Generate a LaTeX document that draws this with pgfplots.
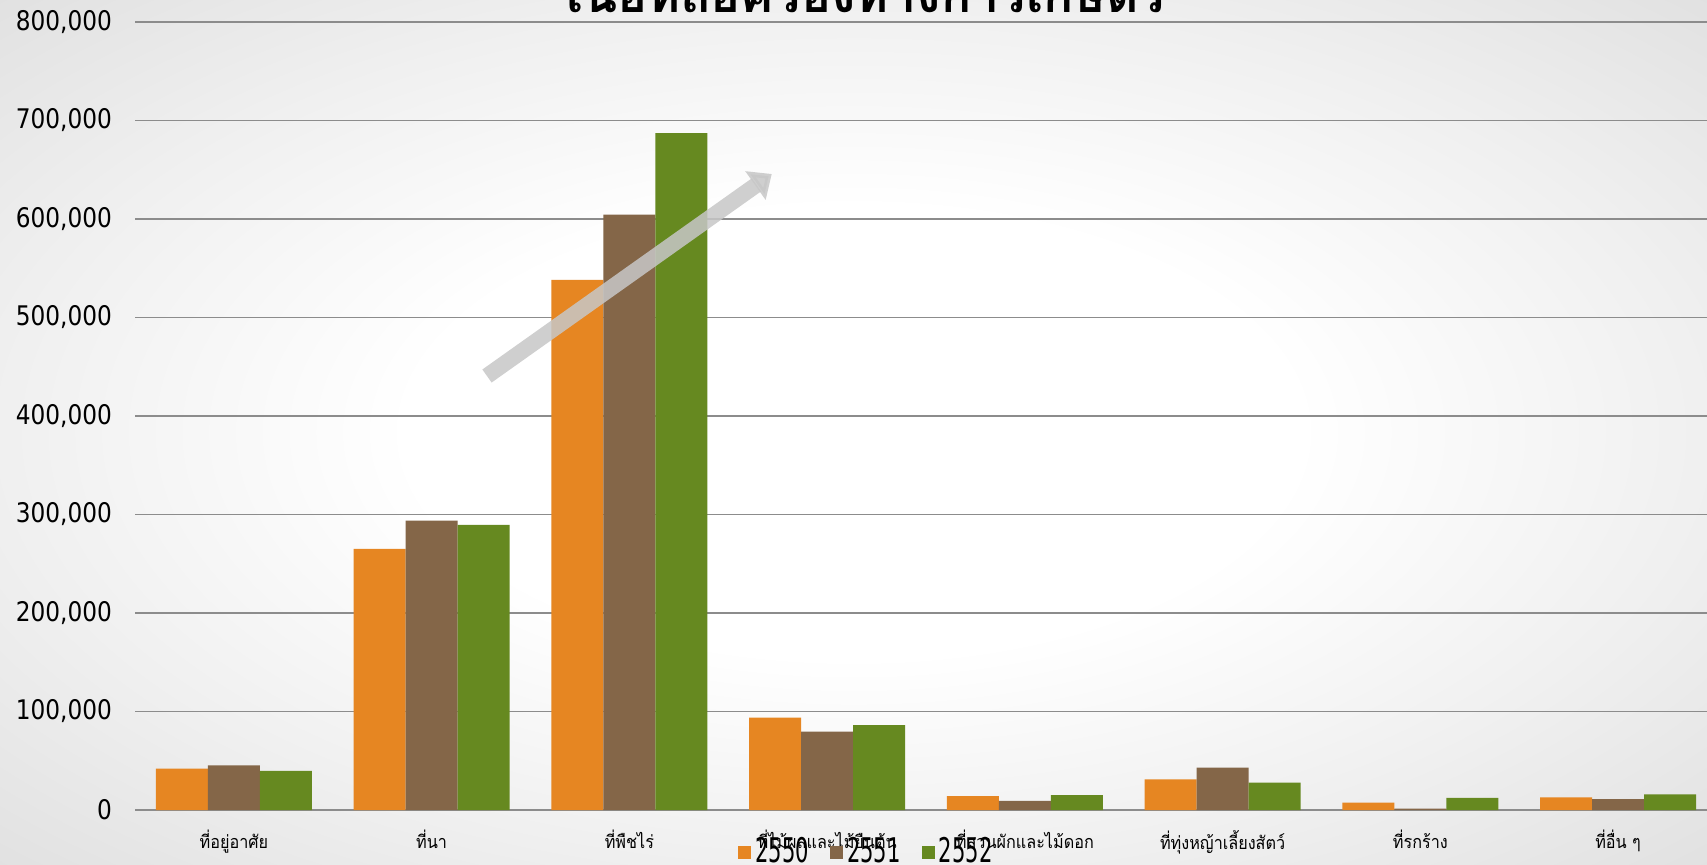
\documentclass[border=0pt]{standalone}
\usepackage{fontspec}
\usepackage{pgfplots}
\pgfplotsset{compat=1.18}
\usetikzlibrary{arrows.meta}
\setmainfont{DejaVu Sans}
\newfontfamily\thaifont[Script=Thai]{Loma}
\newfontfamily\catfont[Script=Thai, FakeStretch=0.9]{Loma}
\newfontfamily\tickfont[FakeStretch=0.86]{DejaVu Sans}
\newfontfamily\legfont[FakeStretch=0.62]{DejaVu Sans}

\definecolor{cOrange}{HTML}{E68622}
\definecolor{cBrown}{HTML}{846648}
\definecolor{cGreen}{HTML}{668920}
\definecolor{cGrid}{HTML}{8C8C8C}

\pgfdeclareradialshading{bgshade}{\pgfpoint{0bp}{0bp}}{%
  color(0bp)=(white); color(13bp)=(white); color(25bp)=(black!6);
  color(36bp)=(black!12); color(50bp)=(black!12)}

\begin{document}
\begin{tikzpicture}
\path[use as bounding box] (0,0) rectangle (853.5pt,432pt);
\shade[shading=bgshade] (0,0) rectangle (853.5pt,432pt);

% title, top is cut off by the page edge
\node[anchor=base, inner sep=0pt] at (433pt,425.5pt)
  {\thaifont\bfseries\fontsize{25}{30}\selectfont เนื้อที่ถือครองทางการเกษตร};

\begin{axis}[
    at={(67.5pt,27pt)}, anchor=south west,
    width=791pt, height=394pt, scale only axis,
    ybar=0pt, bar width=0.263,
    xmin=-0.5, xmax=7.5,
    ymin=0, ymax=800000,
    xtick={0,...,7},
    xticklabels={ที่อยู่อาศัย, ที่นา, ที่พืชไร่, ที่ไม้ผลและไม้ยืนต้น, ที่สวนผักและไม้ดอก, ที่ทุ่งหญ้าเลี้ยงสัตว์, ที่รกร้าง, ที่อื่น ๆ},
    ytick={0,100000,...,800000},
    scaled y ticks=false,
    /pgf/number format/.cd, fixed, 1000 sep={,}, assume math mode=true,
    /pgfplots/.cd,
    major tick length=0pt,
    axis x line*=bottom, axis y line*=left,
    y axis line style={draw=none},
    x axis line style={draw=cGrid, line width=1.3pt},
    ymajorgrids, major grid style={draw=cGrid, line width=0.9pt},
    yticklabel style={font=\tickfont\fontsize{13.5}{15}\selectfont, xshift=-8pt},
    xticklabel style={font=\catfont\fontsize{9}{11}\selectfont, yshift=-6.5pt},
    legend style={at={(0.463,-0.053)}, anchor=center, draw=none, fill=none,
        legend columns=3, font=\legfont\fontsize{17}{18}\selectfont,
        /tikz/every even column/.append style={column sep=8.6pt},
        inner sep=0pt},
    legend image code/.code={\fill[#1] (0pt,-3.5pt) rectangle (6.5pt,3pt);},
    clip=false,
]
\addplot[fill=cOrange, draw=none] coordinates {
  (0,42000) (1,265200) (2,538100) (3,93900) (4,14100) (5,31000) (6,7600) (7,12700)};
\addplot[fill=cBrown, draw=none] coordinates {
  (0,45300) (1,293900) (2,604400) (3,79600) (4,9300) (5,43100) (6,1400) (7,11000)};
\addplot[fill=cGreen, draw=none] coordinates {
  (0,39800) (1,289500) (2,687300) (3,86200) (4,15100) (5,27900) (6,12400) (7,15800)};
\legend{2550, 2551, 2552}

% decorative trend arrow
\draw[line width=8pt, black!22, opacity=0.85,
  -{Triangle[width=17pt, length=10pt]}]
  (axis cs:1.28,440600) -- (axis cs:2.72,645700);
\end{axis}
\end{tikzpicture}
\end{document}
